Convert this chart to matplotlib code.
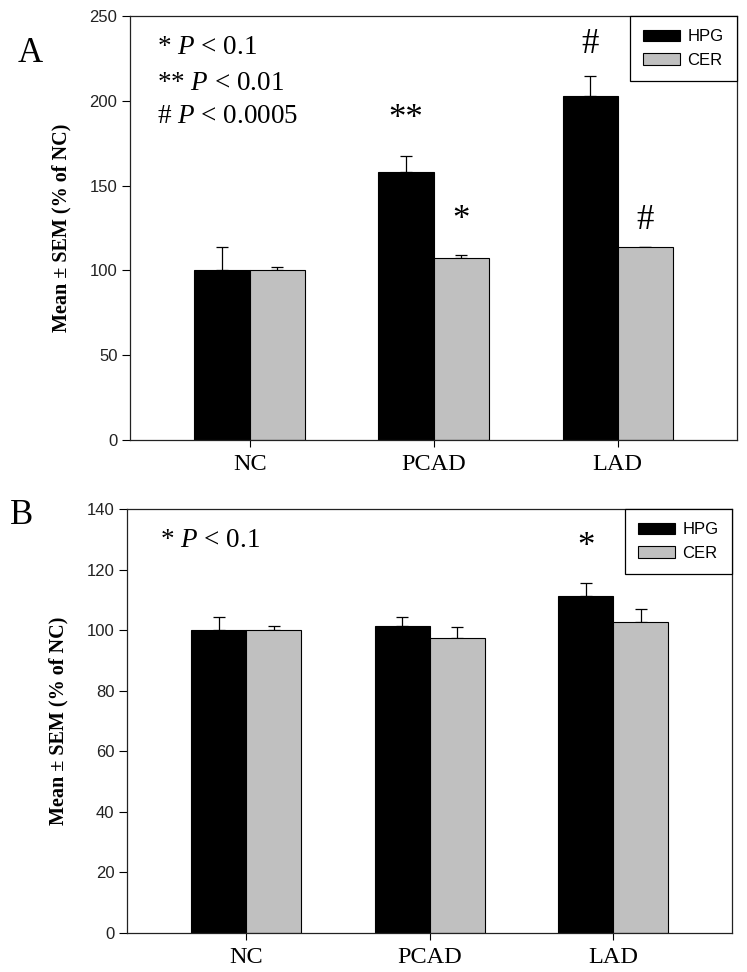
import matplotlib
matplotlib.use("Agg")
import matplotlib.pyplot as plt
import numpy as np

plt.rcParams["mathtext.fontset"] = "custom"
plt.rcParams["mathtext.it"] = "Liberation Serif:italic"
plt.rcParams["mathtext.rm"] = "Liberation Serif"

categories = ["NC", "PCAD", "LAD"]
series = ["HPG", "CER"]

# Panel A
a_hpg = [100.0, 158.0, 202.8]
a_hpg_err = [13.6, 9.5, 11.8]
a_cer = [100.0, 107.3, 113.7]
a_cer_err = [2.0, 1.7, 0.3]

# Panel B
b_hpg = [100.0, 101.5, 111.3]
b_hpg_err = [4.4, 2.9, 4.3]
b_cer = [100.0, 97.5, 102.8]
b_cer_err = [1.4, 3.6, 4.1]

a_yticks = [0, 50, 100, 150, 200, 250]
b_yticks = [0, 20, 40, 60, 80, 100, 120, 140]

black = "#000000"
grey = "#C0C0C0"
serif = ["Liberation Serif", "DejaVu Serif"]
sans = ["Liberation Sans", "DejaVu Sans"]

fig = plt.figure(figsize=(7.47, 9.72), dpi=100)
axA = fig.add_axes([0.174, 0.5473, 0.8126, 0.4362])
axB = fig.add_axes([0.170, 0.0401, 0.810, 0.4362])

w = 0.30
x = np.arange(len(categories))


def draw(ax, hpg, hpg_err, cer, cer_err, ymax, yticks):
    ax.bar(x - w / 2, hpg, w, color=black, edgecolor=black, linewidth=0.8,
           label=series[0], zorder=2)
    ax.bar(x + w / 2, cer, w, color=grey, edgecolor=black, linewidth=0.8,
           label=series[1], zorder=2)
    ax.errorbar(x - w / 2, hpg, yerr=[np.zeros(3), hpg_err], fmt="none",
                ecolor=black, elinewidth=0.9, capsize=4.3, capthick=0.9, zorder=1)
    ax.errorbar(x + w / 2, cer, yerr=[np.zeros(3), cer_err], fmt="none",
                ecolor=black, elinewidth=0.9, capsize=4.3, capthick=0.9, zorder=1)
    ax.set_xlim(-0.65, 2.648)
    ax.set_ylim(0, ymax)
    ax.set_yticks(yticks)
    ax.set_yticklabels([str(t) for t in yticks], fontfamily=sans, fontsize=12,
                       color="#222222")
    ax.set_xticks(x)
    ax.set_xticklabels(categories, fontfamily=serif, fontsize=17.5)
    ax.tick_params(axis="y", direction="out", length=6, width=0.8, pad=3)
    ax.tick_params(axis="x", direction="out", length=5, width=0.8, pad=5)
    for s in ax.spines.values():
        s.set_linewidth(0.9)
        s.set_color("#222222")
    ax.set_ylabel("Mean \u00b1 SEM (% of NC)", fontfamily=serif,
                  fontweight="bold", fontsize=14.5, labelpad=13)
    leg = ax.legend(loc="upper right", bbox_to_anchor=(1.0, 1.0),
                    borderaxespad=0, fancybox=False, framealpha=1,
                    edgecolor=black, prop={"family": sans, "size": 12},
                    handlelength=2.2, handleheight=0.72, borderpad=0.8,
                    labelspacing=0.5, handletextpad=0.45)
    leg.get_frame().set_linewidth(0.9)


draw(axA, a_hpg, a_hpg_err, a_cer, a_cer_err, 250, a_yticks)
draw(axB, b_hpg, b_hpg_err, b_cer, b_cer_err, 140, b_yticks)

ann = dict(fontfamily=serif, fontsize=19.5, ha="left", va="center")
axA.text(0.045, 0.925, "* $\\mathit{P}$ < 0.1", transform=axA.transAxes, **ann)
axA.text(0.045, 0.842, "** $\\mathit{P}$ < 0.01", transform=axA.transAxes, **ann)
axA.text(0.045, 0.764, "# $\\mathit{P}$ < 0.0005", transform=axA.transAxes, **ann)
axB.text(0.055, 0.925, "* $\\mathit{P}$ < 0.1", transform=axB.transAxes, **ann)

mk = dict(fontfamily=serif, fontsize=25, ha="center", va="center")
axA.text(1 - w / 2, 188.7, "**", **mk)
axA.text(1 + w / 2, 129.7, "*", **mk)
axA.text(2 - w / 2, 233, "#", **mk)
axA.text(2 + w / 2, 129.7, "#", **mk)
axB.text(2 - w / 2, 127.4, "*", **mk)

fig.text(0.041, 0.945, "A", fontfamily=serif, fontsize=25, ha="center", va="center")
fig.text(0.029, 0.47, "B", fontfamily=serif, fontsize=25, ha="center", va="center")

fig.savefig("out.png", dpi=100)
